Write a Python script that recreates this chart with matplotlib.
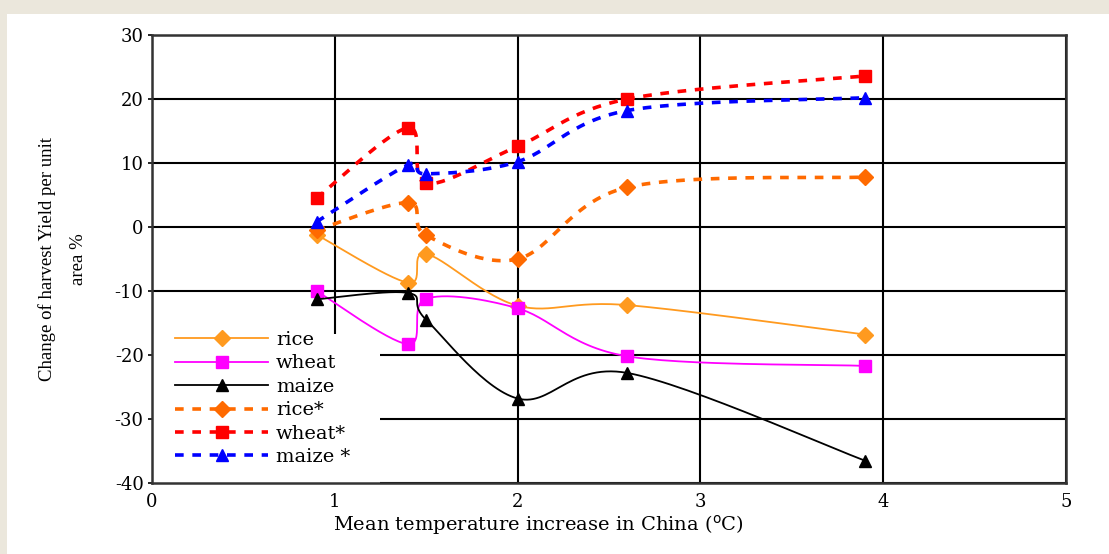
import matplotlib
matplotlib.use("Agg")
import matplotlib.pyplot as plt
from matplotlib.patches import Rectangle
import numpy as np

plt.rcParams['font.family'] = ['DejaVu Serif']
plt.rcParams['axes.unicode_minus'] = False

# mean temperature increase (deg C) and yield change (%)
temp = [0.9, 1.4, 1.5, 2.0, 2.6, 3.9]
rice = [-1.2, -8.7, -4.2, -12.3, -12.2, -16.8]
wheat = [-10.0, -18.3, -11.2, -12.7, -20.2, -21.7]
maize = [-11.3, -10.3, -14.5, -26.8, -22.8, -36.5]
rice_co2 = [-0.5, 3.8, -1.3, -5.0, 6.2, 7.8]
wheat_co2 = [4.5, 15.5, 6.8, 12.6, 20.0, 23.6]
maize_co2 = [0.8, 9.7, 8.3, 10.2, 18.2, 20.2]

xticks = [0, 1, 2, 3, 4, 5]
yticks = [-40, -30, -20, -10, 0, 10, 20, 30]

NSEG = 30


def smooth(x, y, sx=183.0, sy=6.4):
    """Excel-like smoothed line (bezier through the points, in screen space)."""
    p = np.column_stack([np.asarray(x) * sx, np.asarray(y) * sy])
    n = len(p)
    out = [p[0]]
    t = np.linspace(0, 1, NSEG + 1)[1:]
    for i in range(n - 1):
        p0 = p[max(i - 1, 0)]
        p1 = p[i]
        p2 = p[i + 1]
        p3 = p[min(i + 2, n - 1)]
        c1 = p1 + (p2 - p0) / 6.0
        c2 = p2 - (p3 - p1) / 6.0
        for tt in t:
            b = ((1 - tt) ** 3) * p1 + 3 * ((1 - tt) ** 2) * tt * c1 \
                + 3 * (1 - tt) * tt ** 2 * c2 + tt ** 3 * p2
            out.append(b)
    out = np.array(out)
    return out[:, 0] / sx, out[:, 1] / sy


fig = plt.figure(figsize=(11.09, 5.54), dpi=100)
fig.patch.set_facecolor('white')
fig.patches.append(Rectangle((0, 1 - 14 / 554), 1, 14 / 554, transform=fig.transFigure,
                             facecolor='#ebe7dc', edgecolor='none', zorder=0))
fig.patches.append(Rectangle((0, 0), 7 / 1109, 1, transform=fig.transFigure,
                             facecolor='#ebe7dc', edgecolor='none', zorder=0))

ax = fig.add_axes([152 / 1109, 71 / 554, 914 / 1109, 448 / 554])

series = [
    (rice, 'rice', '#ff9a1f', '-', 'D', 1.3),
    (wheat, 'wheat', '#ff00ff', '-', 's', 1.3),
    (maize, 'maize', 'black', '-', '^', 1.3),
    (rice_co2, 'rice*', '#ff6a00', (0, (2.4, 2.4)), 'D', 2.6),
    (wheat_co2, 'wheat*', '#ff0000', (0, (2.4, 2.4)), 's', 2.6),
    (maize_co2, 'maize *', '#0000ff', (0, (2.4, 2.4)), '^', 2.6),
]

for vals, name, col, ls, mk, lw in series:
    sx, sy = smooth(temp, vals)
    ax.plot(sx, sy, color=col, linestyle=ls, linewidth=lw, marker=mk,
            markevery=[k * NSEG for k in range(len(temp))],
            markersize=9 if mk != 'D' else 8, markeredgecolor=col,
            markerfacecolor=col, label=name, zorder=3)

ax.set_xlim(0, 5)
ax.set_ylim(-40, 30)
ax.set_xticks(xticks)
ax.set_yticks(yticks)
ax.grid(True, color='black', linewidth=1.5)
ax.set_axisbelow(True)
for s in ax.spines.values():
    s.set_linewidth(1.8)
    s.set_color('#333333')

ax.tick_params(axis='x', length=0, pad=7, labelsize=13)
ax.tick_params(axis='y', length=3, width=1.2, pad=3, labelsize=13)

ax.set_xlabel('Mean temperature increase in China ($^{\\rm o}$C)', fontsize=14)
ax.xaxis.set_label_coords(0.423, -0.066, transform=ax.transAxes)
ax.set_ylabel('Change of harvest Yield per unit\narea %', fontsize=13.5,
              family='Liberation Serif', labelpad=20, linespacing=2.1)

# white box behind legend hides the grid
ax.add_patch(Rectangle((0, 0), 228 / 914, 149 / 448, transform=ax.transAxes,
                       facecolor='white', edgecolor='none', zorder=1.5))
ax.legend(loc='upper left', bbox_to_anchor=(23 / 914, 152 / 448), frameon=False,
          fontsize=14, handlelength=4.8, handletextpad=0.4, labelspacing=0.28,
          numpoints=1, borderaxespad=0, borderpad=0)

fig.savefig('out.png', dpi=100)
